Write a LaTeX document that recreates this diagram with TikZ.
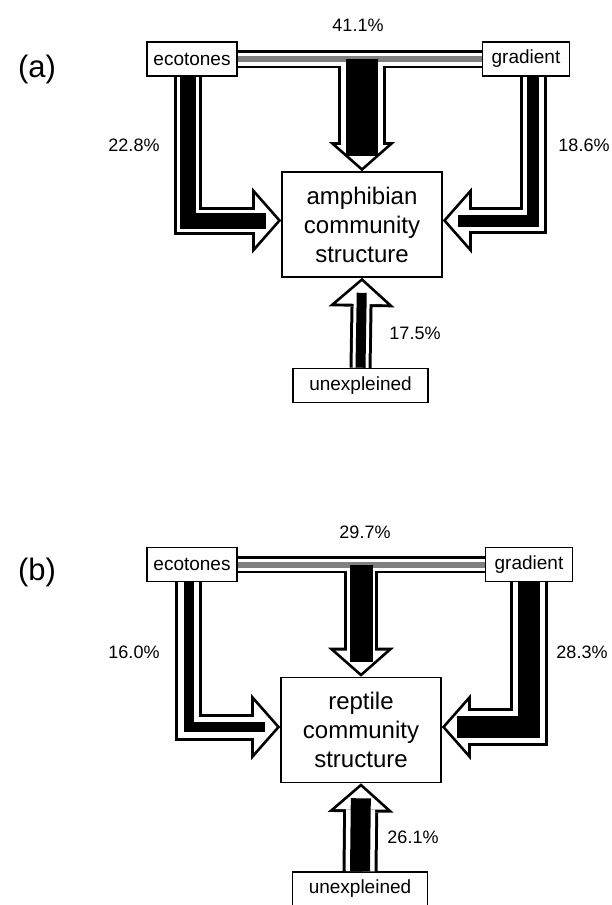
\documentclass[tikz,border=0pt]{standalone}
\usepackage{fontspec}
\setmainfont{Liberation Sans}
\usetikzlibrary{arrows.meta,calc}

\tikzset{
    factor/.style={draw, line width=1.6pt, fill=white, inner sep=2pt,
        minimum height=34pt, font=\fontsize{19}{22}\selectfont},
    target/.style={draw, line width=1.6pt, fill=white, align=center,
        minimum width=160pt, minimum height=105pt, font=\fontsize{24}{29}\selectfont},
    pct/.style={font=\fontsize{18}{20}\selectfont},
    panel/.style={font=\fontsize{31}{34}\selectfont},
    flowout/.style={line width=#1, line join=miter,
        -{Triangle[length=29pt,width=66pt,line width=0pt]}},
    flowgap/.style={white, line width=#1, line join=miter, shorten >=3.6pt,
        -{Triangle[length=22.5pt,width=51pt,line width=0pt]}},
    flowcore/.style={line width=#1, line join=miter, shorten >=15pt}
}

\begin{document}
\begin{tikzpicture}[x=1pt, y=-1pt]
    \useasboundingbox (0,0) rectangle (611,905);

    % (a) amphibians
    \node (alabel) [panel] at (37,69) {(a)};
    \node (aeco) [factor, minimum width=90pt] at (192,59) {ecotones};
    \node (agrad) [factor, minimum width=87pt] at (526,59) {gradient};
    \node (amph) [target] at (362,224.5) {amphibian\\community\\structure};
    \node (aun) [factor, minimum width=135pt] at (360.5,385.5) {unexpleined};

    \node (ashared) [pct] at (358,25) {41.1\%};
    \node (aecopct) [pct] at (134,145) {22.8\%};
    \node (agradpct) [pct] at (584,145) {18.6\%};
    \node (aunpct) [pct] at (415,333) {17.5\%};

    \draw[flowout=18pt, -] (aeco.east) -- (agrad.west);
    \draw[flowout=48pt] (amph.north |- aeco.east) -- (amph.north);
    \draw[flowout=28pt] ([xshift=-4pt]aeco.south) |- ([yshift=4pt]amph.west);
    \draw[flowout=27pt] ([xshift=7pt]agrad.south) |- ([yshift=4pt]amph.east);
    \draw[flowout=22pt] (aun.north) -- (amph.south);

    \draw[flowgap=13pt, -, shorten >=0pt] (aeco.east) -- (agrad.west);
    \draw[flowgap=42pt] (amph.north |- aeco.east) -- (amph.north);
    \draw[flowgap=22pt] ([xshift=-4pt]aeco.south) |- ([yshift=4pt]amph.west);
    \draw[flowgap=21pt] ([xshift=7pt]agrad.south) |- ([yshift=4pt]amph.east);
    \draw[flowgap=16pt] (aun.north) -- (amph.south);

    \draw[flowcore=6pt, gray, shorten >=0pt] (aeco.east) -- (agrad.west);
    \draw[flowcore=32pt] (amph.north |- aeco.east) -- (amph.north);
    \draw[flowcore=16pt] ([xshift=-4pt]aeco.south) |- ([yshift=4pt]amph.west);
    \draw[flowcore=12pt] ([xshift=7pt]agrad.south) |- ([yshift=4pt]amph.east);
    \draw[flowcore=10pt] (aun.north) -- (amph.south);

    % (b) reptiles
    \node (blabel) [panel] at (37,572) {(b)};
    \node (beco) [factor, minimum width=90pt] at (192,564.5) {ecotones};
    \node (bgrad) [factor, minimum width=87pt] at (529,564.5) {gradient};
    \node (brep) [target] at (361,730) {reptile\\community\\structure};
    \node (bun) [factor, minimum width=135pt] at (360,889) {unexpleined};

    \node (bshared) [pct] at (365,532) {29.7\%};
    \node (becopct) [pct] at (134,652) {16.0\%};
    \node (bgradpct) [pct] at (582,652) {28.3\%};
    \node (bunpct) [pct] at (413,837) {26.1\%};

    \draw[flowout=17pt, -] (beco.east) -- (bgrad.west);
    \draw[flowout=34pt] (brep.north |- beco.east) -- (brep.north);
    \draw[flowout=27pt] ([xshift=-3.5pt]beco.south) |- ([yshift=3pt]brep.west);
    \draw[flowout=38pt] (bgrad.south) |- ([yshift=3pt]brep.east);
    \draw[flowout=35pt] (bun.north) -- (brep.south);

    \draw[flowgap=12pt, -, shorten >=0pt] (beco.east) -- (bgrad.west);
    \draw[flowgap=28pt] (brep.north |- beco.east) -- (brep.north);
    \draw[flowgap=21pt] ([xshift=-3.5pt]beco.south) |- ([yshift=3pt]brep.west);
    \draw[flowgap=32pt] (bgrad.south) |- ([yshift=3pt]brep.east);
    \draw[flowgap=29pt] (bun.north) -- (brep.south);

    \draw[flowcore=6pt, gray, shorten >=0pt] (beco.east) -- (bgrad.west);
    \draw[flowcore=23pt] (brep.north |- beco.east) -- (brep.north);
    \draw[flowcore=10pt] ([xshift=-3.5pt]beco.south) |- ([yshift=3pt]brep.west);
    \draw[flowcore=22pt] (bgrad.south) |- ([yshift=3pt]brep.east);
    \draw[flowcore=20pt] (bun.north) -- (brep.south);
\end{tikzpicture}
\end{document}
